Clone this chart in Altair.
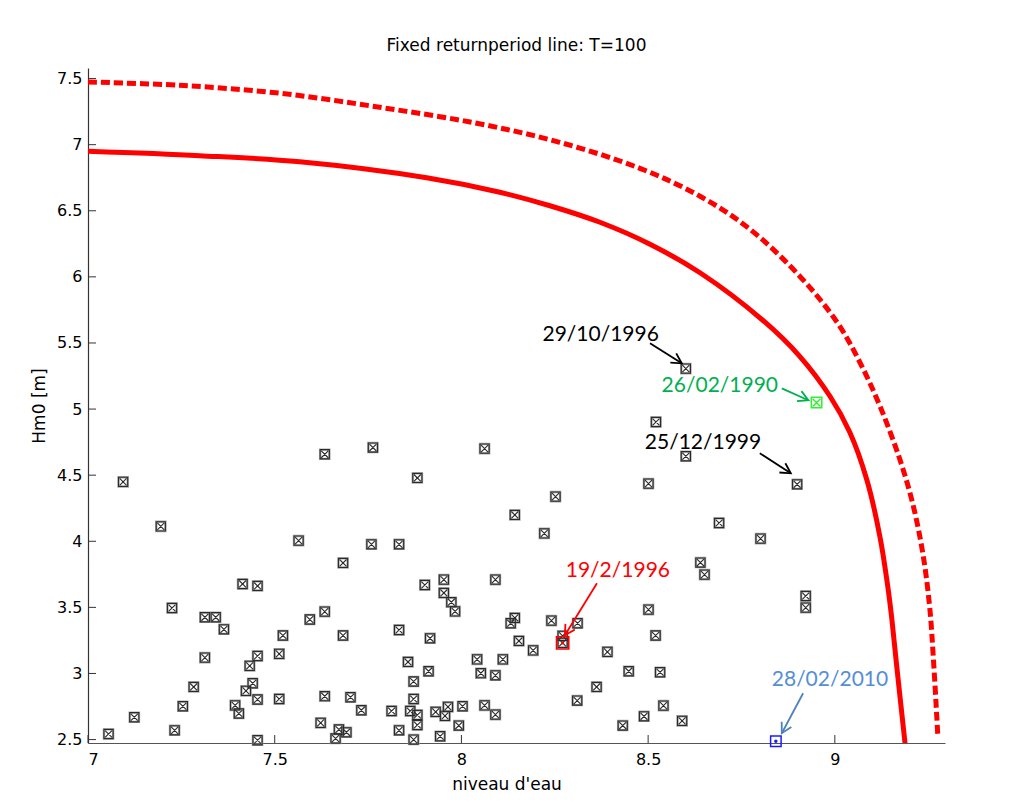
import math
import altair as alt
import pandas as pd

# ---------------- data ----------------
# T=100 return-period line (solid) and its upper bound (dashed)
solid_x = [7.0, 7.299, 7.567, 7.907, 8.103, 8.237, 8.371, 8.505, 8.639, 8.807,
           8.906, 8.987, 9.040, 9.086, 9.121, 9.142, 9.153, 9.166, 9.188]
solid_y = [6.950, 6.917, 6.871, 6.750, 6.640, 6.538, 6.413, 6.247, 6.031, 5.672,
           5.399, 5.097, 4.825, 4.462, 4.031, 3.653, 3.403, 3.048, 2.472]
dash_x = [7.0, 7.246, 7.514, 7.781, 8.041, 8.263, 8.478, 8.639, 8.773, 8.906,
          9.006, 9.067, 9.121, 9.174, 9.209, 9.236, 9.254, 9.265, 9.276]
dash_y = [7.474, 7.449, 7.389, 7.283, 7.162, 7.018, 6.821, 6.610, 6.360, 6.005,
          5.657, 5.354, 5.021, 4.620, 4.280, 3.902, 3.501, 3.062, 2.517]

# observed storms: water level (niveau d'eau) and Hm0
obs_x = [7.094, 7.634, 7.763, 7.195, 7.564, 7.759, 7.683, 7.414, 7.454, 7.225,
         7.313, 7.342, 7.364, 7.594, 7.634, 7.522, 7.683, 7.313, 7.454, 7.512,
         7.433, 7.283, 7.441, 7.423, 7.254, 7.394, 7.404, 7.454, 7.512, 7.634,
         7.703, 7.732, 7.124, 7.055, 7.232, 7.623, 7.672, 7.692, 7.663, 7.454,
         8.062, 8.521, 7.882, 8.252, 8.143, 8.222, 8.501, 7.833, 7.902, 7.953,
         7.953, 7.973, 7.983, 8.091, 7.833, 7.916, 8.143, 8.132, 8.241, 8.311,
         8.271, 8.271, 8.154, 8.192, 8.501, 8.520, 8.391, 8.042, 8.111, 7.857,
         7.912, 8.052, 8.091, 7.872, 8.448, 8.532, 8.362, 7.872, 8.310, 7.813,
         7.863, 7.882, 7.931, 7.964, 7.956, 8.003, 8.062, 8.091, 8.541, 8.489,
         7.882, 7.833, 7.993, 8.432, 7.872, 7.943, 8.601, 8.601, 8.899, 8.690,
         8.801, 8.640, 8.651, 8.922, 8.922, 8.591]
obs_y = [4.449, 4.658, 4.709, 4.113, 4.005, 3.977, 3.836, 3.677, 3.662, 3.495,
         3.425, 3.425, 3.334, 3.408, 3.468, 3.287, 3.287, 3.120, 3.132, 3.148,
         3.057, 2.898, 2.926, 2.868, 2.752, 2.759, 2.697, 2.803, 2.807, 2.828,
         2.820, 2.722, 2.669, 2.542, 2.570, 2.626, 2.576, 2.555, 2.508, 2.495,
         4.701, 4.902, 4.479, 4.338, 4.199, 4.060, 4.436, 3.977, 3.669, 3.710,
         3.609, 3.539, 3.470, 3.710, 3.329, 3.266, 3.420, 3.380, 3.400, 3.380,
         3.284, 3.231, 3.246, 3.175, 3.483, 3.287, 3.163, 3.107, 3.107, 3.087,
         3.017, 3.002, 2.986, 2.939, 3.017, 3.009, 2.898, 2.807, 2.795, 2.716,
         2.716, 2.686, 2.709, 2.747, 2.679, 2.752, 2.759, 2.689, 2.757, 2.676,
         2.610, 2.570, 2.606, 2.606, 2.500, 2.525, 5.306, 4.643, 4.431, 4.138,
         4.020, 3.839, 3.748, 3.586, 3.498, 2.641]

# highlighted storms
hl_x = [8.271, 8.951, 8.842]
hl_y = [3.231, 5.049, 2.487]

# annotations: label, text centre, arrow start, arrow tip, colours
ann_text = ["29/10/1996", "26/02/1990", "25/12/1999", "19/2/1996", "28/02/2010"]
ann_tx = [8.373, 8.692, 8.647, 8.419, 8.987]
ann_ty = [5.558, 5.172, 4.741, 3.773, 2.949]
arr_x0 = [8.505, 8.858, 8.799, 8.363, 8.915]
arr_y0 = [5.498, 5.157, 4.666, 3.682, 2.850]
arr_x1 = [8.590, 8.929, 8.882, 8.277, 8.858]
arr_y1 = [5.346, 5.067, 4.514, 3.289, 2.548]
ann_color = ["#000000", "#00b050", "#000000", "#ff0000", "#558ed5"]
arr_color = ["#000000", "#00b050", "#000000", "#ff0000", "#4f81bd"]

x_ticks = [7, 7.5, 8, 8.5, 9]
y_ticks = [2.5, 3, 3.5, 4, 4.5, 5, 5.5, 6, 6.5, 7, 7.5]

# ---------------- layout ----------------
X_DOM = [7, 9.295]
Y_DOM = [2.474, 7.58]
W, H = 857, 675
SX = W / (X_DOM[1] - X_DOM[0])
SY = H / (Y_DOM[1] - Y_DOM[0])

xs = alt.Scale(domain=X_DOM, nice=False, zero=False)
ys = alt.Scale(domain=Y_DOM, nice=False, zero=False)

AX_FONT = "DejaVu Sans"
x_axis = alt.Axis(values=x_ticks, format="~g", title="niveau d'eau", ticks=False,
                  grid=False, labelPadding=8, titlePadding=9, titleX=W / 2 - 10,
                  domainColor="#555555")
y_axis = alt.Axis(values=y_ticks, format="~g", title="Hm0 [m]", ticks=False,
                  grid=False, labelPadding=6, titlePadding=8, domainColor="#333333")

X = lambda f: alt.X(f, type="quantitative", scale=xs, axis=x_axis)
Y = lambda f: alt.Y(f, type="quantitative", scale=ys, axis=y_axis)

curve_df = pd.DataFrame({
    "x": solid_x + dash_x,
    "y": solid_y + dash_y,
    "i": list(range(len(solid_x))) + list(range(len(dash_x))),
    "s": ["solid"] * len(solid_x) + ["dash"] * len(dash_x),
})

solid = alt.Chart(curve_df).transform_filter(alt.datum.s == "solid").mark_line(
    color="#ff0000", strokeWidth=5, clip=True, interpolate="catmull-rom"
).encode(x=X("x"), y=Y("y"), order="i:Q")

dashed = alt.Chart(curve_df).transform_filter(alt.datum.s == "dash").mark_line(
    color="#ff0000", strokeWidth=5, strokeDash=[9, 4], clip=True, interpolate="catmull-rom"
).encode(x=X("x"), y=Y("y"), order="i:Q")

obs_df = pd.DataFrame({"x": obs_x, "y": obs_y})
SQ = "M-1,-1L1,-1L1,1L-1,1Z"
SQX = "M-1,-1L1,-1L1,1L-1,1Z M-0.75,-0.75L0.75,0.75 M0.75,-0.75L-0.75,0.75"

halo = alt.Chart(obs_df).mark_point(
    shape=SQ, filled=False, stroke="#a8a8a8", strokeWidth=2.4, size=85, opacity=1
).encode(x=X("x"), y=Y("y"))
marks = alt.Chart(obs_df).mark_point(
    shape=SQX, filled=False, stroke="#2a2a2a", strokeWidth=1.1, size=85, opacity=1
).encode(x=X("x"), y=Y("y"))

hl_df = pd.DataFrame({"x": hl_x, "y": hl_y})
red_box = alt.Chart(hl_df.iloc[[0]]).mark_point(
    shape=SQ, filled=False, stroke="#ff0000", strokeWidth=1.6, size=150, opacity=1
).encode(x=X("x"), y=Y("y"))
red_dot = alt.Chart(hl_df.iloc[[0]]).mark_point(
    shape="circle", filled=True, color="#ff0000", size=10, opacity=1
).encode(x=X("x"), y=Y("y"))
green = alt.Chart(hl_df.iloc[[1]]).mark_point(
    shape=SQX, filled=False, stroke="#33ee33", strokeWidth=1.5, size=110, opacity=1
).encode(x=X("x"), y=Y("y"))
blue_box = alt.Chart(hl_df.iloc[[2]]).mark_point(
    shape=SQ, filled=False, stroke="#1a1aff", strokeWidth=1.5, size=110, opacity=1
).encode(x=X("x"), y=Y("y"))
blue_dot = alt.Chart(hl_df.iloc[[2]]).mark_point(
    shape="circle", filled=True, color="#1a1aff", size=12, opacity=1
).encode(x=X("x"), y=Y("y"))

angles = []
for a0, b0, a1, b1 in zip(arr_x0, arr_y0, arr_x1, arr_y1):
    dx = (a1 - a0) * SX
    dy = -(b1 - b0) * SY
    angles.append(math.degrees(math.atan2(dx, -dy)) % 360)

arr_df = pd.DataFrame({"x0": arr_x0, "y0": arr_y0, "x1": arr_x1, "y1": arr_y1,
                       "c": arr_color, "a": angles})
shafts = alt.Chart(arr_df).mark_rule(strokeWidth=1.8).encode(
    x=X("x0"), y=Y("y0"), x2="x1:Q", y2="y1:Q", color=alt.Color("c:N", scale=None))
heads = alt.Chart(arr_df).mark_point(
    shape="M-0.55,1L0,0L0.55,1", filled=False, strokeWidth=1.8, size=400, opacity=1
).encode(x=X("x1"), y=Y("y1"), angle=alt.Angle("a:Q", scale=None),
         stroke=alt.Stroke("c:N", scale=None))

txt_df = pd.DataFrame({"x": ann_tx, "y": ann_ty, "t": ann_text, "c": ann_color})
texts = alt.Chart(txt_df).mark_text(
    font="Lato", fontSize=21, align="center", baseline="middle"
).encode(x=X("x"), y=Y("y"), text="t:N", color=alt.Color("c:N", scale=None))

xt_df = pd.DataFrame({"v": x_ticks})
yt_df = pd.DataFrame({"v": y_ticks})
xticks = alt.Chart(xt_df).mark_rule(color="#333333", strokeWidth=1).encode(
    x=X("v"), y=alt.value(H), y2=alt.value(H - 8))
yticks = alt.Chart(yt_df).mark_rule(color="#333333", strokeWidth=1).encode(
    y=Y("v"), x=alt.value(0), x2=alt.value(8))

chart = alt.layer(
    xticks, yticks, solid, dashed, halo, marks, red_box, red_dot, green,
    blue_box, blue_dot, shafts, heads, texts
).properties(
    width=W, height=H,
    title=alt.TitleParams("Fixed returnperiod line: T=100", font=AX_FONT, fontSize=17,
                          fontWeight="normal", color="#000000", anchor="middle", offset=13),
    autosize=alt.AutoSizeParams(type="none"),
    padding={"left": 80, "top": 60, "right": 60, "bottom": 52},
    background="white",
).configure_view(stroke=None).configure_axis(
    labelFont=AX_FONT, labelFontSize=16, labelColor="#000000",
    titleFont=AX_FONT, titleFontSize=17, titleColor="#000000", titleFontWeight="normal",
    domainWidth=1.2,
)

chart.save("out.html", embed_options={"renderer": "svg", "actions": False})
